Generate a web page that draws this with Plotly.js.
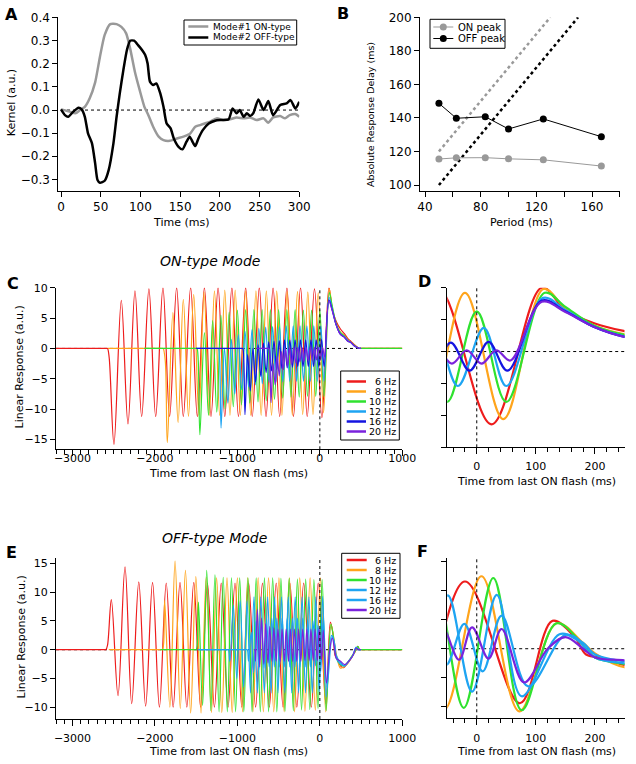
<!DOCTYPE html>
<html>
<head>
<meta charset="utf-8">
<script src="https://cdn.plot.ly/plotly-3.0.1.min.js"></script>
<style>html,body{margin:0;padding:0;background:#fff}</style>
</head>
<body>
<div id="fig" style="width:636px;height:764px"></div>
<script>
// ---------- Panel A : mode kernels ----------
const kernelNames = ['Mode#1 ON-type', 'Mode#2 OFF-type'];
const kernelTimeOn = [0, 11, 18, 24, 30, 36, 43, 49, 55, 62,
  70, 76, 82, 87, 93, 99, 105, 110, 116, 123,
  129, 137, 146, 154, 162, 169, 175, 181, 188, 196,
  204, 213, 221, 230, 238, 246, 255, 261, 267, 276,
  282, 288, 295, 300];
const kernelOn = [0.003, -0.007, -0.014, 0, 0.014, 0.05, 0.12, 0.23, 0.325, 0.372,
  0.372, 0.36, 0.332, 0.267, 0.166, 0.087, 0.014, -0.022, -0.072, -0.115,
  -0.13, -0.133, -0.123, -0.115, -0.104, -0.072, -0.065, -0.058, -0.05, -0.036,
  -0.043, -0.04, -0.032, -0.036, -0.032, -0.043, -0.036, -0.055, -0.032, -0.026,
  -0.036, -0.022, -0.017, -0.029];
const kernelTimeOff = [0, 5, 9, 15.5, 22, 26, 30, 34, 39, 43,
  46, 49, 55, 60, 66, 70, 74, 78.5, 83, 87,
  92, 97, 102, 106, 109, 112, 116, 120, 125, 129,
  133, 138, 142, 148, 153, 158, 162, 166, 169, 173,
  178.5, 186, 194, 202, 211, 216, 221, 225, 230, 234,
  238, 242, 248.5, 255, 261, 267, 276, 284, 289, 295,
  300];
const kernelOff = [0.003, -0.022, -0.029, -0.007, 0.01, 0.003, -0.029, -0.101, -0.144, -0.231,
  -0.303, -0.315, -0.306, -0.26, -0.144, -0.029, 0.072, 0.173, 0.26, 0.3,
  0.3, 0.281, 0.26, 0.238, 0.202, 0.123, 0.108, 0.115, 0.072, 0.014,
  -0.058, -0.079, -0.123, -0.159, -0.17, -0.137, -0.115, -0.14, -0.156, -0.123,
  -0.087, -0.058, -0.046, -0.043, -0.04, 0.007, -0.014, 0, -0.029, -0.014,
  -0.026, -0.014, 0.046, 0, 0.039, -0.022, 0.022, 0.029, 0.043, 0.007,
  0.036];

// ---------- Panel B : response delay vs period ----------
const peakNames = ['ON peak', 'OFF peak'];
const periods = [50, 62.5, 83.3, 100, 125, 166.7];
const onPeakDelay = [115.5, 116.2, 116.3, 115.6, 115, 111.3];
const offPeakDelay = [148.7, 139.8, 140.7, 133.4, 139.4, 128.8];
const onRefPeriod = [50, 130], onRefDelay = [120, 200];
const offRefPeriod = [50, 150], offRefDelay = [100, 200];
const periodTicks = [40, 60, 80, 100, 120, 140, 160, 180];
const periodLabels = ['40', '', '80', '', '120', '', '160', ''];

// ---------- Panels C/D : ON-type mode linear response ----------
const freqNames = ['6 Hz', '8 Hz', '10 Hz', '12 Hz', '16 Hz', '20 Hz'];

const onT6 = [-3200, -2585, -2575, -2555, -2497, -2408, -2327, -2242, -2161, -2073,
  -1991, -1903, -1822, -1737, -1656, -1567, -1486, -1400, -1320, -1234,
  -1153, -1067, -987, -900, -820, -734, -653, -567, -487, -400,
  -320, -234, -153, -65, 25, 110, 150, 200, 250, 300,
  340, 375, 420, 480, 490, 1000];
const onV6 = [0, 0, 0, -1.5, -15.8, 7.9, -12.4, 9.5, -11.2, 9.8,
  -11.2, 10, -11.2, 10, -11.2, 10, -11.2, 10, -11.2, 10,
  -11.2, 10, -11.2, 10, -11.2, 10, -11.2, 10, -11.2, 10,
  -11.2, 10, -11.2, 9.8, -11.4, 10, 6.5, 4.4, 3.2, 2.4,
  1.6, 1.2, 0.6, 0, 0, 0];

const onT8 = [-2570, -1910, -1900, -1875, -1850, -1782, -1719, -1656, -1593, -1530,
  -1467, -1404, -1341, -1278, -1215, -1153, -1090, -1027, -964, -901,
  -838, -775, -712, -649, -586, -523, -460, -397, -334, -271,
  -208, -146, -83, -20, 45, 113, 150, 200, 250, 300,
  340, 375, 420, 480, 490, 1000];
const onV8 = [0, 0, 0, -2, -15.5, 5.9, -12.2, 8.1, -11.2, 8.9,
  -11, 9.3, -11, 9.5, -11, 9.6, -11, 9.6, -11, 9.5,
  -11, 9.5, -11, 9.5, -11, 9.5, -11, 9.4, -11, 9.4,
  -10.9, 9.3, -10.9, 9.2, -10.6, 9.8, 6.8, 4.0, 2.7, 2.1,
  1.4, 1.1, 0.5, 0, 0, 0];

const onT10 = [-2130, -1500, -1490, -1475, -1455, -1400, -1350, -1300, -1250, -1200,
  -1150, -1100, -1050, -1000, -950, -900, -850, -800, -750, -700,
  -650, -600, -550, -500, -450, -400, -350, -300, -250, -200,
  -150, -100, -50, 0, 50, 115, 150, 200, 250, 300,
  340, 375, 420, 480, 490, 1000];
const onV10 = [0, 0, 0, -2, -14.2, 2.6, -11, 4.6, -10.5, 5.5,
  -10, 6, -9.6, 6.3, -9.3, 6.4, -9, 6.4, -8.8, 6.4,
  -8.6, 6.4, -8.4, 6.4, -8.2, 6.4, -8, 6.4, -8, 6.3,
  -7.9, 6.3, -7.9, 6.3, -7.9, 9.2, 7, 4.0, 2.6, 2.0,
  1.3, 1.0, 0.5, 0, 0, 0];

const onT12 = [-1500, -1240, -1230, -1215, -1198, -1157, -1115, -1073, -1032, -990,
  -948, -907, -865, -823, -782, -740, -698, -657, -615, -573,
  -532, -490, -448, -407, -365, -323, -282, -240, -198, -157,
  -115, -73, -32, 12, 50, 112, 150, 200, 250, 300,
  340, 375, 420, 480, 490, 500];
const onV12 = [0, 0, 0, -2, -13.1, 0, -9, 1.5, -7.5, 2.3,
  -6.8, 2.8, -6.3, 3.1, -6, 3.3, -5.8, 3.5, -5.6, 3.6,
  -5.5, 3.6, -5.5, 3.7, -5.4, 3.7, -5.4, 3.7, -5.4, 3.7,
  -5.4, 3.7, -5.4, 3.7, -5.4, 8.4, 6.5, 3.8, 2.4, 1.9,
  1.3, 1.0, 0.4, 0, 0, 0];

const onT16 = [-1500, -945, -935, -922, -908, -876, -844, -812, -780, -748,
  -716, -684, -652, -620, -588, -556, -524, -492, -460, -428,
  -396, -364, -332, -300, -268, -236, -204, -172, -140, -108,
  -76, -44, -12, 20, 52, 110, 150, 200, 250, 300,
  340, 375, 420, 480, 490, 500];
const onV16 = [0, 0, 0, -2, -10.9, -1, -7, 0, -5.5, 0.6,
  -4.6, 0.9, -4, 1.1, -3.7, 1.2, -3.5, 1.3, -3.3, 1.4,
  -3.2, 1.4, -3.1, 1.4, -3, 1.4, -3, 1.4, -3, 1.4,
  -3, 1.4, -3, 1.5, -3, 8, 6.3, 3.8, 2.3, 1.8,
  1.2, 1.0, 0.4, 0, 0, 0];

const onT20 = [-770, -625, -615, -605, -592, -567, -542, -517, -492, -467,
  -442, -417, -392, -367, -342, -317, -292, -267, -242, -217,
  -192, -167, -142, -117, -92, -67, -42, -17, 8, 33,
  57, 110, 150, 200, 250, 300, 340, 375, 420, 480,
  490, 500];
const onV20 = [0, 0, 0, -2, -8.9, -2.5, -6, -1.2, -4.5, -0.5,
  -3.5, 0, -3, 0.1, -2.6, 0.2, -2.4, 0.2, -2.2, 0.2,
  -2.1, 0.2, -2, 0.2, -2, 0.2, -1.9, 0.2, -1.9, 0.2,
  -1.4, 7.8, 6.2, 3.8, 2.3, 1.8, 1.2, 1.0, 0.4, 0,
  0, 0];

// ---------- Panels E/F : OFF-type mode linear response ----------
const offT6 = [-3200, -2605, -2595, -2575, -2529, -2448, -2363, -2282, -2196, -2113,
  -2029, -1946, -1863, -1779, -1696, -1613, -1529, -1446, -1363, -1279,
  -1196, -1113, -1029, -946, -863, -779, -696, -613, -529, -446,
  -363, -279, -196, -104, -20, 73, 128, 165, 185, 210,
  250, 290, 330, 380, 430, 460, 480, 490, 1000];
const offV6 = [0, 0, 0, 0.8, 8.7, -8, 14.4, -9.4, 11.8, -9.8,
  11.7, -10, 11.6, -10, 11.7, -10, 11.7, -10, 11.6, -10,
  11.6, -10, 11.6, -10, 11.6, -10, 11.6, -10, 11.6, -10,
  11.6, -10, 11.6, -10, 11.6, -9.4, 4.8, 2.1, -1, -1.5,
  -2.8, -3.1, -2.5, -1.5, -0.3, 0.6, 0, 0, 0];

const offT8 = [-2560, -1920, -1910, -1895, -1882, -1819, -1756, -1693, -1630, -1567,
  -1504, -1441, -1378, -1315, -1252, -1189, -1126, -1063, -1000, -937,
  -874, -811, -748, -685, -622, -559, -496, -433, -370, -307,
  -244, -181, -118, -55, 8, 72, 135, 180, 200, 250,
  290, 330, 380, 430, 460, 480, 490, 1000];
const offV8 = [0, 0, 0, 1, 8.6, -10, 15.4, -10.2, 13.8, -11,
  12.7, -11, 12.6, -10.9, 12.5, -10.9, 12.5, -10.9, 12.5, -10.8,
  12.5, -10.8, 12.5, -10.8, 12.5, -10.8, 12.5, -10.8, 12.5, -10.8,
  12.5, -10.7, 12.5, -10.5, 12.5, -10.8, 4.4, 1, -0.8, -3.2,
  -3, -2.5, -1.4, -0.2, 0.5, 0, 0, 0];

const offT10 = [-1935, -1510, -1500, -1488, -1472, -1422, -1372, -1322, -1272, -1222,
  -1172, -1122, -1072, -1022, -972, -922, -872, -822, -772, -722,
  -672, -622, -572, -522, -472, -422, -372, -322, -272, -222,
  -172, -122, -72, -22, 28, 76, 135, 185, 200, 250,
  290, 330, 380, 430, 460, 480, 490, 1000];
const offV10 = [0, 0, 0, 0.8, 8.3, -9.7, 13.8, -10.6, 13, -10.8,
  12.6, -10.8, 12.5, -10.8, 12.5, -10.8, 12.5, -10.8, 12.5, -10.8,
  12.5, -10.8, 12.5, -10.8, 12.4, -10.7, 12.4, -10.6, 12.3, -10.5,
  12.3, -10.4, 12.2, -10.2, 12.2, -10.6, 4.4, 0, -1.5, -2.6,
  -2.8, -2.3, -1.3, -0.2, 0.6, 0, 0, 0];

const offT12 = [-1480, -1120, -1110, -1091, -1049, -1008, -966, -924, -883, -841,
  -799, -758, -716, -674, -633, -591, -549, -508, -466, -424,
  -383, -341, -299, -258, -216, -174, -133, -91, -49, -8,
  34, 76, 140, 170, 200, 250, 300, 350, 400, 440,
  470, 480, 500];
const offV12 = [0, 0, 0, -2, 7.7, -5, 8.5, -6.5, 8.5, -7.5,
  9.2, -7.5, 9.2, -7.5, 9.2, -7.5, 9.2, -7.5, 9.2, -7.5,
  9.2, -7.5, 9.2, -7.5, 9.2, -7.5, 9.2, -7.5, 9.2, -7.4,
  9.3, -8.2, 2.5, 1.5, -1.5, -2.5, -2.8, -2, -1, 0.4,
  0, 0, 0];

const offT16 = [-1480, -890, -880, -865, -833, -802, -771, -740, -708, -677,
  -646, -615, -583, -552, -521, -490, -458, -427, -396, -365,
  -333, -302, -271, -240, -208, -177, -146, -115, -83, -52,
  -21, 10, 42, 87, 150, 180, 200, 250, 300, 350,
  400, 440, 470, 480, 500];
const offV16 = [0, 0, 0, -2, 3, -4, 5, -3.5, 5.5, -3.2,
  5.5, -3, 5.5, -3, 5.5, -3, 5.5, -3, 5.5, -3,
  5.5, -3, 5.5, -3, 5.5, -3, 5.3, -3, 5, -2.8,
  4.3, -3.9, 5.7, -6.5, 2.4, 1, -1, -2.2, -2.8, -2,
  -1, 0.4, 0, 0, 0];

const offT20 = [-800, -790, -780, -758, -730, -708, -680, -658, -630, -608,
  -580, -558, -530, -508, -480, -458, -430, -408, -380, -358,
  -330, -308, -280, -258, -230, -208, -180, -158, -130, -108,
  -80, -58, -30, -8, 20, 42, 80, 120, 150, 180,
  200, 250, 300, 350, 400, 440, 470, 480, 500];
const offV20 = [0, 0, -2, 7, -3, 5.5, -2.5, 4.5, -2.3, 4,
  -2, 3.8, -2, 3.6, -2, 3.6, -2, 3.6, -2, 3.6,
  -2, 3.6, -2, 3.6, -2, 3.6, -1.9, 3.6, -1.9, 3.6,
  -1.9, 3.6, -1.9, 3.7, -1.7, 3.4, -5.8, 0, 2, 0,
  -1.5, -2, -2.6, -2, -1, 0.3, 0, 0, 0];

const onTimes = [onT6, onT8, onT10, onT12, onT16, onT20];
const onResp = [onV6, onV8, onV10, onV12, onV16, onV20];
const offTimes = [offT6, offT8, offT10, offT12, offT16, offT20];
const offResp = [offV6, offV8, offV10, offV12, offV16, offV20];
const onColors = ['#ee1c1c', '#ffa41b', '#2fe22f', '#1ea4f2', '#1414e0', '#7a22dc'];
const offColors = ['#ee1c1c', '#ffa41b', '#2fe22f', '#1ea4f2', '#1ea4f2', '#7a22dc'];

// ---------- drawing ----------
const W = 636, H = 764;
const FONT = 'DejaVu Sans, sans-serif';
const px = x => x / W;
const py = y => 1 - y / H;

const traces = [];
traces.push({x: kernelTimeOn, y: kernelOn, name: kernelNames[0], xaxis: 'x', yaxis: 'y', mode: 'lines',
  line: {color: '#999999', width: 2.5, shape: 'spline', smoothing: 0.6}});
traces.push({x: kernelTimeOff, y: kernelOff, name: kernelNames[1], xaxis: 'x', yaxis: 'y', mode: 'lines',
  line: {color: '#000000', width: 2.5, shape: 'spline', smoothing: 0.6}});

traces.push({x: onRefPeriod, y: onRefDelay, xaxis: 'x2', yaxis: 'y2', mode: 'lines',
  line: {color: '#999999', width: 2.5, dash: 'dot'}});
traces.push({x: offRefPeriod, y: offRefDelay, xaxis: 'x2', yaxis: 'y2', mode: 'lines',
  line: {color: '#000000', width: 2.5, dash: 'dot'}});
traces.push({x: periods, y: onPeakDelay, name: peakNames[0], xaxis: 'x2', yaxis: 'y2', mode: 'lines+markers',
  line: {color: '#999999', width: 1}, marker: {color: '#999999', size: 7}});
traces.push({x: periods, y: offPeakDelay, name: peakNames[1], xaxis: 'x2', yaxis: 'y2', mode: 'lines+markers',
  line: {color: '#000000', width: 1}, marker: {color: '#000000', size: 7}});

function addResponses(times, resp, colors, xa, ya, w) {
  for (let i = 0; i < times.length; i++) {
    traces.push({x: times[i], y: resp[i], name: freqNames[i], xaxis: xa, yaxis: ya, mode: 'lines',
      line: {color: colors[i], width: w, shape: 'spline', smoothing: 1}});
  }
}
addResponses(onTimes, onResp, onColors, 'x3', 'y3', 1.2);
addResponses(onTimes, onResp, onColors, 'x4', 'y4', 2.2);
addResponses(offTimes, offResp, offColors, 'x5', 'y5', 1.2);
addResponses(offTimes, offResp, offColors, 'x6', 'y6', 2.2);
traces.forEach(t => { t.hoverinfo = 'skip'; t.showlegend = false; });

function ax(extra) {
  return Object.assign({
    showline: true, linecolor: '#000', linewidth: 1,
    ticks: 'outside', ticklen: 5, tickwidth: 1, tickcolor: '#000',
    showgrid: false, zeroline: false,
    tickfont: {family: FONT, size: 11, color: '#000'}
  }, extra);
}
const minor100 = {dtick: 100, ticks: 'outside', ticklen: 3.5, tickcolor: '#000', tickwidth: 1};
const minor20 = {dtick: 20, ticks: 'outside', ticklen: 3.5, tickcolor: '#000', tickwidth: 1};
const bigTicks = {family: FONT, size: 12, color: '#000'};

const shapes = [];
const annotations = [];
function dotted(xref, yref, x0, x1, y0, y1, layer) {
  shapes.push({type: 'line', xref: xref, yref: yref, x0: x0, x1: x1, y0: y0, y1: y1,
    line: {color: '#000', width: 1, dash: 'dot'}, layer: layer});
}
dotted('x', 'y', 0, 300, 0, 0, 'below');
dotted('x3 domain', 'y3', 0, 1, 0, 0, 'below');
dotted('x3', 'y3 domain', 0, 0, 0, 1, 'above');
dotted('x4 domain', 'y4', 0, 1, 0, 0, 'below');
dotted('x4', 'y4 domain', 0, 0, 0, 1, 'above');
dotted('x5 domain', 'y5', 0, 1, 0, 0, 'below');
dotted('x5', 'y5 domain', 0, 0, 0, 1, 'above');
dotted('x6 domain', 'y6', 0, 1, 0, 0, 'below');
dotted('x6', 'y6 domain', 0, 0, 0, 1, 'above');

function text(x, y, s, size, opts) {
  annotations.push(Object.assign({xref: 'paper', yref: 'paper', x: px(x), y: py(y), text: s, showarrow: false,
    xanchor: 'center', yanchor: 'middle', font: {family: FONT, size: size, color: '#000'}}, opts || {}));
}
// panel letters
[['A', 11.5, 14], ['B', 342.5, 13], ['C', 13.3, 283.3], ['D', 424, 281], ['E', 11.7, 552.5], ['F', 422.5, 551]]
  .forEach(l => text(l[1], l[2], '<b>' + l[0] + '</b>', 16));
text(210, 261, '<i>ON-type Mode</i>', 14);
text(214, 537.5, '<i>OFF-type Mode</i>', 14);
text(180.8, 222.5, 'Time (ms)', 11);
text(11.7, 102.5, 'Kernel (a.u.)', 11, {textangle: -90});
text(521.7, 222.5, 'Period (ms)', 11);
text(370, 115, 'Absolute Response Delay (ms)', 9.5, {textangle: -90});
text(228.3, 473, 'Time from last ON flash (ms)', 11);
text(19, 367.5, 'Linear Response (a.u.)', 11, {textangle: -90});
text(536, 481, 'Time from last ON flash (ms)', 11);
text(229, 751, 'Time from last ON flash (ms)', 11);
text(21, 637.5, 'Linear Response (a.u.)', 11, {textangle: -90});
text(536, 751, 'Time from last ON flash (ms)', 11);

// hand-built compact legends
function legendBox(cfg) {
  shapes.push({type: 'rect', xref: 'paper', yref: 'paper', x0: px(cfg.box[0]), x1: px(cfg.box[2]),
    y0: py(cfg.box[3]), y1: py(cfg.box[1]), line: {color: '#000', width: 1}, fillcolor: '#fff', layer: 'above'});
  cfg.names.forEach((name, i) => {
    const y = cfg.row0 + i * cfg.step;
    shapes.push({type: 'line', xref: 'paper', yref: 'paper', x0: px(cfg.lx[0]), x1: px(cfg.lx[1]),
      y0: py(y), y1: py(y), line: {color: cfg.colors[i], width: cfg.lw}, layer: 'above'});
    if (cfg.marker) {
      const cx = (cfg.lx[0] + cfg.lx[1]) / 2, r = 3.5;
      shapes.push({type: 'circle', xref: 'paper', yref: 'paper', x0: px(cx - r), x1: px(cx + r),
        y0: py(y + r), y1: py(y - r), line: {color: cfg.colors[i], width: 0}, fillcolor: cfg.colors[i], layer: 'above'});
    }
    text(cfg.tx, y, name, cfg.fs, {xanchor: cfg.anchor});
  });
}
legendBox({box: [184, 20, 296.7, 45], names: kernelNames, colors: ['#999999', '#000000'], row0: 26.5, step: 11,
  lx: [188.3, 208.3], lw: 2.5, tx: 211, anchor: 'left', fs: 9});
legendBox({box: [430, 19.3, 505, 48.3], names: peakNames, colors: ['#999999', '#000000'], row0: 27, step: 11.5,
  lx: [433.3, 453.3], lw: 1, marker: true, tx: 456, anchor: 'left', fs: 10});
legendBox({box: [340.7, 371, 399.3, 440], names: freqNames, colors: onColors, row0: 381.5, step: 10,
  lx: [346.7, 366], lw: 2.5, tx: 397.5, anchor: 'right', fs: 9.5});
legendBox({box: [341.7, 553.3, 400, 618.3], names: freqNames, colors: offColors, row0: 560, step: 10,
  lx: [346.7, 366.7], lw: 2.5, tx: 397.5, anchor: 'right', fs: 9.5});

const layout = {
  width: W, height: H, margin: {l: 0, r: 0, t: 0, b: 0},
  paper_bgcolor: '#fff', plot_bgcolor: 'rgba(0,0,0,0)', showlegend: false,
  font: {family: FONT, color: '#000'},
  xaxis: ax({domain: [px(58.3), px(299.3)], range: [-3.4, 300], dtick: 50, tick0: 0, anchor: 'y',
    tickfont: bigTicks}),
  yaxis: ax({domain: [py(190.7), py(16.7)], range: [-0.349, 0.404], dtick: 0.1, tick0: 0, tickformat: '.1f', anchor: 'x',
    tickfont: bigTicks}),
  xaxis2: ax({domain: [px(420), px(620)], range: [36.4, 180.1], tickvals: periodTicks, ticktext: periodLabels, anchor: 'y2',
    tickfont: bigTicks}),
  yaxis2: ax({domain: [py(190.7), py(17.3)], range: [96.6, 200], dtick: 20, tick0: 0, anchor: 'x2',
    tickfont: bigTicks}),
  xaxis3: ax({domain: [px(56), px(402.3)], range: [-3200, 1000], dtick: 1000, tick0: 0, ticklen: 6, minor: minor100,
    anchor: 'y3', ticklabelstandoff: -8}),
  yaxis3: ax({domain: [py(449.3), py(287.7)], range: [-16.6, 10], dtick: 5, tick0: 0, anchor: 'x3'}),
  xaxis4: ax({domain: [px(447.2), px(624.5)], range: [-50, 250], dtick: 100, tick0: 0, ticklen: 6, minor: minor20,
    anchor: 'y4', ticklabelstandoff: 2}),
  yaxis4: ax({domain: [py(447.3), py(287.7)], range: [-15, 10], dtick: 5, tick0: 0, showticklabels: false, anchor: 'x4'}),
  xaxis5: ax({domain: [px(56), px(402.3)], range: [-3200, 1000], dtick: 1000, tick0: 0, ticklen: 6, minor: minor100,
    anchor: 'y5', ticklabelstandoff: 3}),
  yaxis5: ax({domain: [py(719), py(558.3)], range: [-12.05, 15.9], dtick: 5, tick0: 0, anchor: 'x5'}),
  xaxis6: ax({domain: [px(447.2), px(624.5)], range: [-50, 250], dtick: 100, tick0: 0, ticklen: 6, minor: minor20,
    anchor: 'y6', ticklabelstandoff: 3}),
  yaxis6: ax({domain: [py(718.3), py(558.3)], range: [-12, 15.6], dtick: 5, tick0: 0, showticklabels: false, anchor: 'x6'}),
  shapes: shapes,
  annotations: annotations
};

Plotly.newPlot('fig', traces, layout, {staticPlot: true, displayModeBar: false});
</script>
</body>
</html>
